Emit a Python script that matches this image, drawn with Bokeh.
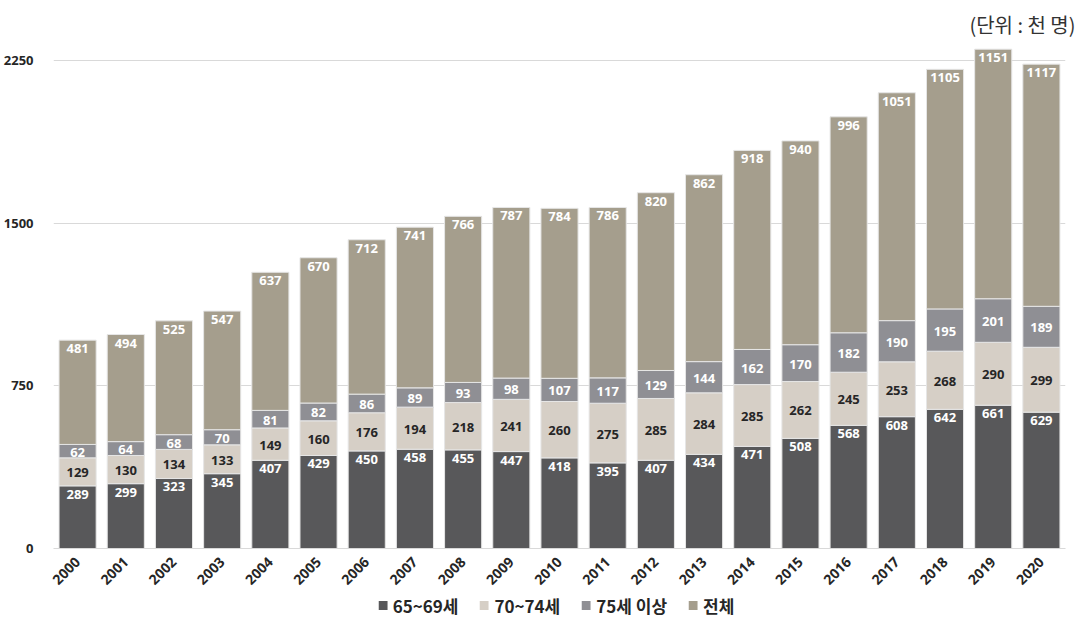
from bokeh.plotting import figure
from bokeh.layouts import column
from bokeh.models import ColumnDataSource, Legend, LegendItem, Title, FixedTicker, Range1d
from bokeh.core.properties import value
from bokeh.embed import file_html
from bokeh.resources import INLINE

years = ["2000", "2001", "2002", "2003", "2004", "2005", "2006", "2007", "2008", "2009", "2010",
         "2011", "2012", "2013", "2014", "2015", "2016", "2017", "2018", "2019", "2020"]
age_65_69 = [289, 299, 323, 345, 407, 429, 450, 458, 455, 447, 418, 395, 407, 434, 471, 508, 568, 608, 642, 661, 629]
age_70_74 = [129, 130, 134, 133, 149, 160, 176, 194, 218, 241, 260, 275, 285, 284, 285, 262, 245, 253, 268, 290, 299]
age_75_up = [62, 64, 68, 70, 81, 82, 86, 89, 93, 98, 107, 117, 129, 144, 162, 170, 182, 190, 195, 201, 189]
total = [481, 494, 525, 547, 637, 670, 712, 741, 766, 787, 784, 786, 820, 862, 918, 940, 996, 1051, 1105, 1151, 1117]

series_names = ["65~69세", "70~74세", "75세 이상", "전체"]
series_keys = ["a", "b", "c", "d"]
series_vals = [age_65_69, age_70_74, age_75_up, total]
colors = ["#58585a", "#d6cfc6", "#8f8f94", "#a59e8d"]
label_colors = ["#ffffff", "#262626", "#ffffff", "#ffffff"]
inside_end = [True, False, False, True]
y_ticks = [0, 750, 1500, 2250]

data = {"year": years}
for k, v in zip(series_keys, series_vals):
    data[k] = v
source = ColumnDataSource(data)

p = figure(x_range=years, y_range=Range1d(0, 2320), frame_width=1012, frame_height=503,
           output_backend="svg", toolbar_location=None,
           min_border_left=46, min_border_right=10, min_border_top=0, min_border_bottom=0)
p.outline_line_color = None
p.background_fill_color = "white"

renderers = p.vbar_stack(series_keys, x="year", width=0.77, color=colors, source=source,
                         line_color="#e6e6e6", line_width=1)

# value labels
bottoms = [0] * len(years)
for i, vals in enumerate(series_vals):
    tops = [b + v for b, v in zip(bottoms, vals)]
    if inside_end[i]:
        ys = tops
        baseline = "top"
        yoff = 4
    else:
        ys = [(b + t) / 2 for b, t in zip(bottoms, tops)]
        baseline = "middle"
        yoff = 1
    ls = ColumnDataSource(dict(x=years, y=ys, t=[str(v) for v in vals]))
    p.text(x="x", y="y", text="t", source=ls, text_align="center", text_baseline=baseline,
           y_offset=yoff, text_font=value("Open Sans"), text_font_style="bold",
           text_font_size="13px", text_color=label_colors[i])
    bottoms = tops

p.xgrid.grid_line_color = None
p.ygrid.grid_line_color = "#d9d9d9"
p.ygrid.grid_line_width = 1

p.yaxis.ticker = FixedTicker(ticks=y_ticks)
p.yaxis.axis_line_color = None
p.yaxis.major_tick_line_color = None
p.yaxis.minor_tick_line_color = None
p.yaxis.major_label_standoff = 14
p.yaxis.major_label_text_font = "Open Sans"
p.yaxis.major_label_text_font_style = "bold"
p.yaxis.major_label_text_font_size = "13px"
p.yaxis.major_label_text_color = "#262626"

p.xaxis.axis_line_color = "#d9d9d9"
p.xaxis.major_tick_line_color = None
p.xaxis.minor_tick_line_color = None
p.xaxis.major_label_orientation = 0.785398
p.xaxis.major_label_standoff = 5
p.xaxis.major_label_text_font = "Open Sans"
p.xaxis.major_label_text_font_style = "bold"
p.xaxis.major_label_text_font_size = "14px"
p.xaxis.major_label_text_color = "#262626"

title = Title(text="(단위 : 천 명)", align="right", text_font="Noto Sans CJK KR",
              text_font_style="normal", text_font_size="20px", text_color="#333333",
              standoff=14, offset=-10)
p.add_layout(title, "above")

# legend strip (same stacked bars, kept below the visible range so only the legend shows)
p2 = figure(width=1068, height=25, x_range=years, y_range=Range1d(5000, 5001),
            x_axis_type=None, y_axis_type=None, output_backend="svg", toolbar_location=None,
            min_border=0)
p2.outline_line_color = None
p2.xgrid.grid_line_color = None
p2.ygrid.grid_line_color = None
legend_renderers = p2.vbar_stack(series_keys, x="year", width=0.77, fill_color=colors,
                                 line_color=None, source=source)
items = [LegendItem(label=n, renderers=[r]) for n, r in zip(series_names, legend_renderers)]
legend = Legend(items=items, orientation="horizontal", location="center",
                glyph_width=11, glyph_height=11, label_standoff=5, spacing=20,
                padding=0, margin=0, border_line_color=None, background_fill_alpha=0,
                label_text_font="Noto Sans CJK KR", label_text_font_style="bold",
                label_text_font_size="17px", label_text_color="#262626")
p2.add_layout(legend)

layout = column(p, p2, spacing=0)
open("out.html", "w").write(file_html(layout, INLINE))
